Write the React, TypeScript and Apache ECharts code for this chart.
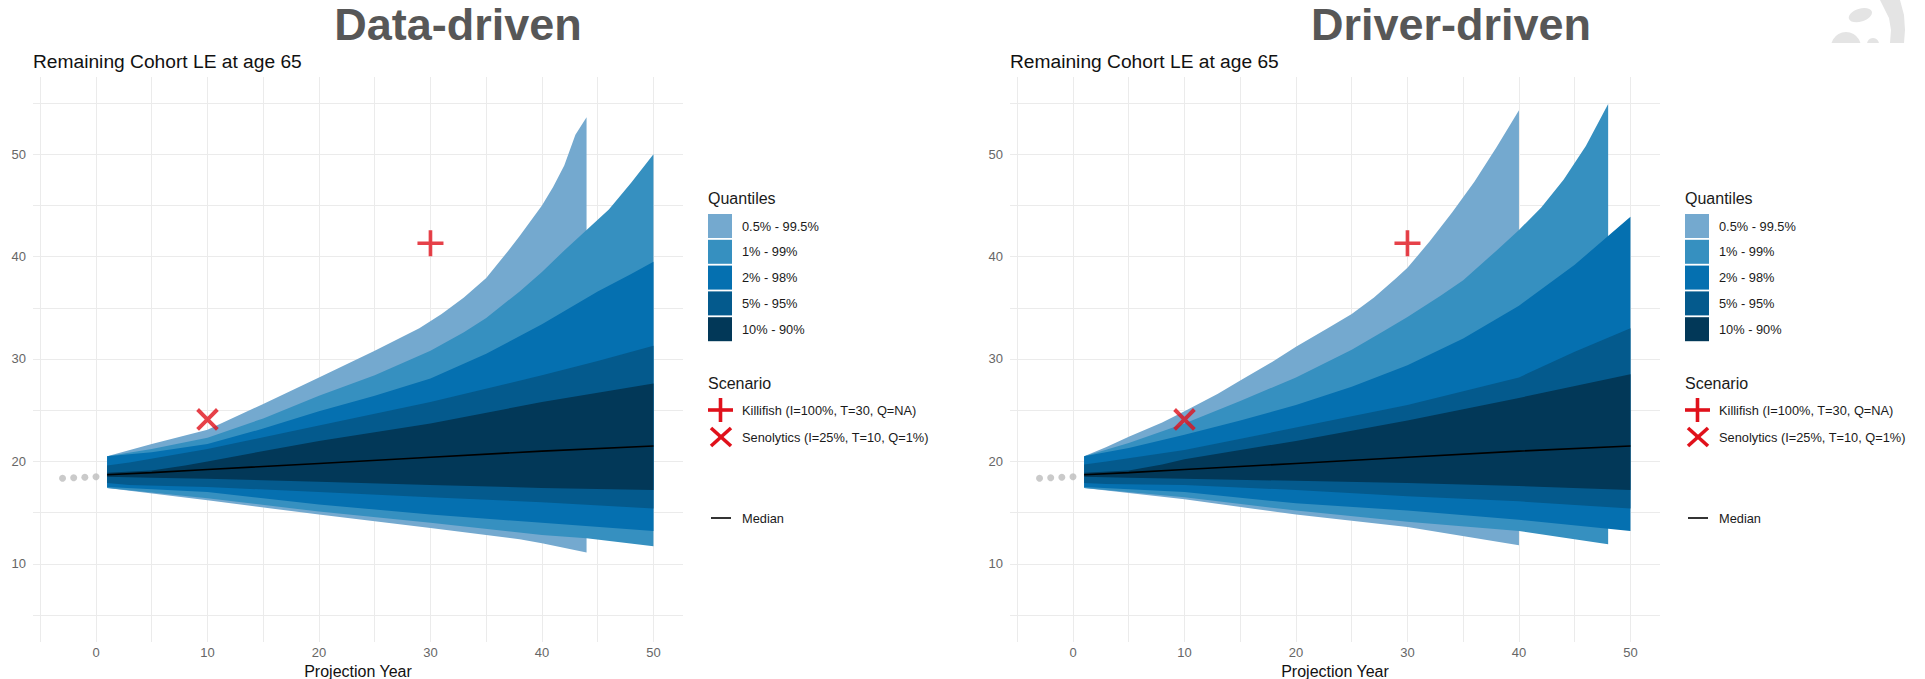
import React, { useEffect, useRef } from "react";
import * as echarts from "echarts";

const W = 1925;
const H = 679;
const FONT = "'Liberation Sans', Arial, sans-serif";

// ---------- Data-driven (left) quantile bands: [projection year, remaining LE] ----------
const dd005Up = [[1, 20.5], [5, 21.7], [10, 23.1], [15, 25.6], [20, 28.2], [25, 30.8], [29, 33.0], [31, 34.4], [33, 36.0], [35, 37.9], [37, 40.6], [38, 42.0], [40, 45.0], [41, 46.8], [42, 48.9], [43, 51.9], [44, 53.6]];
const dd005Lo = [[1, 17.4], [10, 16.2], [20, 14.8], [30, 13.5], [38, 12.4], [40, 12.0], [44, 11.1]];
const dd01Up = [[1, 20.5], [5, 21.2], [10, 22.3], [15, 24.2], [20, 26.4], [25, 28.4], [30, 30.8], [33, 32.6], [35, 34.0], [38, 36.6], [40, 38.5], [42, 40.6], [44, 42.6], [46, 44.6], [48, 47.2], [50, 50.0]];
const dd01Lo = [[1, 17.4], [10, 16.4], [20, 15.1], [30, 14.0], [40, 12.8], [44, 12.5], [50, 11.7]];
const dd02Up = [[1, 20.5], [5, 20.9], [10, 21.7], [15, 23.2], [20, 24.9], [25, 26.4], [30, 28.1], [35, 30.5], [40, 33.4], [45, 36.6], [48, 38.3], [50, 39.5]];
const dd02Lo = [[1, 17.5], [10, 17.0], [20, 15.8], [30, 14.8], [40, 14.0], [50, 13.2]];
const dd05Up = [[1, 19.6], [3, 19.9], [10, 21.2], [20, 23.5], [30, 25.8], [40, 28.4], [45, 29.8], [50, 31.3]];
const dd05Lo = [[1, 17.9], [3, 17.7], [10, 17.5], [20, 17.0], [30, 16.5], [40, 16.0], [50, 15.4]];
const dd10Up = [[1, 18.9], [5, 19.1], [8, 19.6], [10, 20.0], [20, 22.0], [30, 23.7], [40, 25.8], [50, 27.6]];
const dd10Lo = [[1, 18.5], [5, 18.4], [10, 18.3], [20, 18.0], [30, 17.7], [40, 17.4], [50, 17.2]];

// ---------- Driver-driven (right) quantile bands ----------
const dv005Up = [[1, 20.5], [3, 21.4], [5, 22.4], [8, 23.8], [10, 24.9], [13, 26.6], [15, 27.9], [18, 29.8], [20, 31.2], [23, 33.1], [25, 34.4], [27, 36.0], [29, 37.9], [30, 38.9], [32, 41.5], [34, 44.3], [36, 47.3], [38, 50.7], [40, 54.3]];
const dv005Lo = [[1, 17.4], [10, 16.3], [20, 14.8], [30, 13.6], [40, 11.8]];
const dv01Up = [[1, 20.5], [5, 21.8], [10, 23.7], [15, 25.9], [20, 28.2], [25, 30.9], [28, 32.8], [30, 34.1], [33, 36.2], [35, 37.7], [38, 40.6], [40, 42.6], [42, 44.8], [44, 47.5], [46, 50.8], [48, 54.9]];
const dv01Lo = [[1, 17.4], [10, 16.5], [20, 15.2], [30, 14.1], [40, 13.2], [48, 11.9]];
const dv02Up = [[1, 20.5], [5, 21.3], [10, 22.6], [15, 24.0], [20, 25.5], [25, 27.3], [30, 29.4], [35, 32.0], [40, 35.2], [45, 39.2], [50, 43.9]];
const dv02Lo = [[1, 17.5], [10, 17.0], [20, 15.9], [30, 15.2], [40, 14.3], [50, 13.2]];
const dv05Up = [[1, 19.7], [3, 20.0], [10, 21.1], [20, 23.3], [30, 25.5], [40, 28.2], [45, 30.7], [50, 33.0]];
const dv05Lo = [[1, 17.9], [3, 17.8], [10, 17.7], [20, 17.2], [30, 16.6], [40, 16.1], [50, 15.4]];
const dv10Up = [[1, 18.9], [5, 19.1], [8, 19.7], [10, 20.2], [20, 22.0], [30, 24.0], [40, 26.2], [50, 28.5]];
const dv10Lo = [[1, 18.5], [5, 18.4], [10, 18.3], [20, 18.1], [30, 17.9], [40, 17.6], [50, 17.2]];

// ---------- Shared series ----------
const medianLine = [[1, 18.7], [5, 18.9], [10, 19.2], [20, 19.8], [30, 20.4], [40, 21.0], [50, 21.5]];
const historyDots = [[-3, 18.35], [-2, 18.4], [-1, 18.45], [0, 18.5]];
const killifishPoint = [[30, 41.3]];
const senolyticsPoint = [[10, 24.1]];

const quantileLabels = ["0.5% - 99.5%", "1% - 99%", "2% - 98%", "5% - 95%", "10% - 90%"];
const quantileColors = ["#74a9cf", "#3690c0", "#0570b0", "#045a8d", "#023858"];
const scenarioLabels = ["Killifish (I=100%, T=30, Q=NA)", "Senolytics (I=25%, T=10, Q=1%)"];
const panelTitles = ["Data-driven", "Driver-driven"];
const subtitle = "Remaining Cohort LE at age 65";
const xTicks = [0, 10, 20, 30, 40, 50];
const xGrid = [-5, 0, 5, 10, 15, 20, 25, 30, 35, 40, 45, 50];
const yTicks = [10, 20, 30, 40, 50];
const yGrid = [5, 10, 15, 20, 25, 30, 35, 40, 45, 50, 55];

const RED = "#e0111b";
const PLUS = "path://M43,0 H57 V43 H100 V57 H57 V100 H43 V57 H0 V43 H43 Z";

const leftBands = [
  { up: dd005Up, lo: dd005Lo },
  { up: dd01Up, lo: dd01Lo },
  { up: dd02Up, lo: dd02Lo },
  { up: dd05Up, lo: dd05Lo },
  { up: dd10Up, lo: dd10Lo },
];
const rightBands = [
  { up: dv005Up, lo: dv005Lo },
  { up: dv01Up, lo: dv01Lo },
  { up: dv02Up, lo: dv02Lo },
  { up: dv05Up, lo: dv05Lo },
  { up: dv10Up, lo: dv10Lo },
];

const PANEL_LEFTS = [33, 1010];
const PANEL_TOP = 77;
const PANEL_W = 650;
const PANEL_H = 565;

function bandSeries(gi: number, bands: any[]) {
  return {
    type: "custom",
    xAxisIndex: gi,
    yAxisIndex: gi,
    silent: true,
    z: 2,
    data: bands.map((b, i) => [b.up[0][0], b.up[0][1], i]),
    encode: { x: 0, y: 1 },
    renderItem: (params: any, api: any) => {
      const b = bands[params.dataIndex];
      const pts = [...b.up, ...b.lo.slice().reverse()].map((p: number[]) => api.coord(p));
      return {
        type: "polygon",
        shape: { points: pts },
        style: { fill: quantileColors[params.dataIndex], stroke: "none" },
      };
    },
  };
}

function panelSeries(gi: number, bands: any[]) {
  return [
    bandSeries(gi, bands),
    {
      type: "line",
      xAxisIndex: gi,
      yAxisIndex: gi,
      data: medianLine,
      showSymbol: false,
      silent: true,
      z: 3,
      lineStyle: { color: "#000", width: 1.6 },
    },
    {
      type: "scatter",
      xAxisIndex: gi,
      yAxisIndex: gi,
      data: historyDots,
      symbol: "circle",
      symbolSize: 7,
      silent: true,
      z: 3,
      itemStyle: { color: "#bdbdbd" },
    },
    {
      type: "scatter",
      xAxisIndex: gi,
      yAxisIndex: gi,
      data: killifishPoint,
      symbol: PLUS,
      symbolSize: 26,
      silent: true,
      z: 4,
      itemStyle: { color: RED },
    },
    {
      type: "scatter",
      xAxisIndex: gi,
      yAxisIndex: gi,
      data: senolyticsPoint,
      symbol: PLUS,
      symbolSize: 28,
      symbolRotate: 45,
      silent: true,
      z: 4,
      itemStyle: { color: RED },
    },
  ];
}

function legendGraphics(x0: number) {
  const els: any[] = [];
  const textStyle = (text: string, x: number, y: number, size: number) => ({
    type: "text",
    x,
    y,
    style: { text, fontSize: size, fontFamily: FONT, fill: "#1a1a1a", align: "left", verticalAlign: "middle" },
  });
  els.push(textStyle("Quantiles", x0, 198, 16));
  quantileLabels.forEach((lab, i) => {
    const top = 214 + i * 25.8;
    els.push({ type: "rect", shape: { x: x0, y: top, width: 24, height: 24 }, style: { fill: quantileColors[i] } });
    els.push(textStyle(lab, x0 + 34, top + 12, 12.8));
  });
  els.push(textStyle("Scenario", x0, 383, 16));
  // plus
  const cx = x0 + 12.5;
  els.push({ type: "line", shape: { x1: x0, y1: 410, x2: x0 + 25, y2: 410 }, style: { stroke: RED, lineWidth: 3.6 } });
  els.push({ type: "line", shape: { x1: cx, y1: 398, x2: cx, y2: 422 }, style: { stroke: RED, lineWidth: 3.6 } });
  els.push(textStyle(scenarioLabels[0], x0 + 34, 410, 12.8));
  // cross
  els.push({ type: "line", shape: { x1: x0 + 3, y1: 428, x2: x0 + 23, y2: 446 }, style: { stroke: RED, lineWidth: 3.6 } });
  els.push({ type: "line", shape: { x1: x0 + 23, y1: 428, x2: x0 + 3, y2: 446 }, style: { stroke: RED, lineWidth: 3.6 } });
  els.push(textStyle(scenarioLabels[1], x0 + 34, 437, 12.8));
  // median
  els.push({ type: "line", shape: { x1: x0 + 3, y1: 518, x2: x0 + 23, y2: 518 }, style: { stroke: "#000", lineWidth: 1.6 } });
  els.push(textStyle("Median", x0 + 34, 518, 12.8));
  return els;
}

const titleStyle = (text: string) => ({
  text,
  fontSize: 45,
  fontWeight: "bold",
  fontFamily: FONT,
  fill: "#575757",
  align: "center",
  verticalAlign: "middle",
});

const option: any = {
  animation: false,
  backgroundColor: "#ffffff",
  grid: PANEL_LEFTS.map((left) => ({
    left,
    top: PANEL_TOP,
    width: PANEL_W,
    height: PANEL_H,
    containLabel: false,
    outerBoundsMode: "none",
  })),
  xAxis: [0, 1].map((gi) => ({
    type: "value",
    gridIndex: gi,
    min: -5.65,
    max: 52.65,
    name: "Projection Year",
    nameLocation: "middle",
    nameGap: 18,
    nameTextStyle: { fontSize: 16, color: "#111", fontFamily: FONT },
    axisLine: { show: false },
    axisTick: { show: false, customValues: xGrid },
    axisLabel: { customValues: xTicks, color: "#666", fontSize: 13, margin: 4, fontFamily: FONT },
    splitLine: { show: true, lineStyle: { color: "#ebebeb", width: 1 } },
  })),
  yAxis: [0, 1].map((gi) => ({
    type: "value",
    gridIndex: gi,
    min: 2.36,
    max: 57.54,
    axisLine: { show: false },
    axisTick: { show: false, customValues: yGrid },
    axisLabel: { customValues: yTicks, color: "#666", fontSize: 13, margin: 7, fontFamily: FONT },
    splitLine: { show: true, lineStyle: { color: "#ebebeb", width: 1 } },
  })),
  series: [...panelSeries(0, leftBands), ...panelSeries(1, rightBands)],
  graphic: [
    { type: "text", x: 458, y: 24, style: titleStyle(panelTitles[0]) },
    { type: "text", x: 1451, y: 24, style: titleStyle(panelTitles[1]) },
    ...PANEL_LEFTS.map((left) => ({
      type: "text",
      x: left,
      y: 61,
      style: { text: subtitle, fontSize: 19.2, fontFamily: FONT, fill: "#111", align: "left", verticalAlign: "middle" },
    })),
    ...legendGraphics(708),
    ...legendGraphics(1685),
    // partial logo in the top-right corner
    { type: "ellipse", shape: { cx: 1861, cy: 16, rx: 12, ry: 6.5 }, rotation: 0.3, originX: 1861, originY: 16, style: { fill: "#e4e4e4" } },
    { type: "polygon", shape: { points: [[1880, 0], [1900, 0], [1904, 15], [1905, 30], [1904, 43], [1890, 43], [1891, 30], [1889, 18], [1884, 8]] }, style: { fill: "#e4e4e4" } },
    { type: "circle", shape: { cx: 1846, cy: 47, r: 15 }, style: { fill: "#e4e4e4" } },
    { type: "circle", shape: { cx: 1873, cy: 44, r: 6 }, style: { fill: "#e4e4e4" } },
    { type: "rect", shape: { x: 1820, y: 43, width: 105, height: 20 }, style: { fill: "#ffffff" } },
  ],
};

export default function App() {
  const ref = useRef<HTMLDivElement>(null);
  useEffect(() => {
    const chart = echarts.init(ref.current as HTMLDivElement, null, { renderer: "svg", width: W, height: H });
    chart.setOption(option);
    return () => chart.dispose();
  }, []);
  return (
    <div
      ref={ref}
      style={{ position: "absolute", left: 0, top: 0, width: W, height: H, background: "#fff" }}
    />
  );
}
